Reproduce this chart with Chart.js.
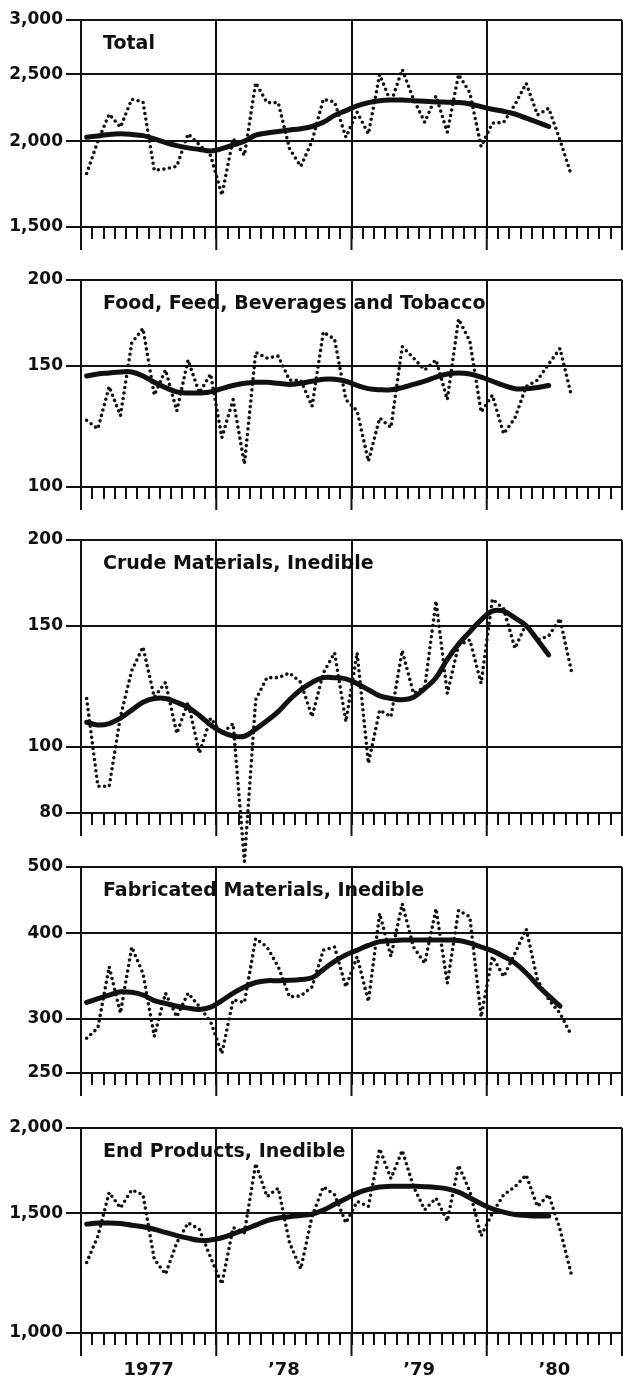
<!DOCTYPE html>
<html>
<head>
<meta charset="utf-8">
<script src="https://cdn.jsdelivr.net/npm/chart.js@4.4.1/dist/chart.umd.min.js"></script>
<style>
  html, body { margin: 0; padding: 0; background: #fff; }
  #wrap { position: relative; width: 623px; height: 1384px; overflow: hidden; }
  #wrap canvas { position: absolute; left: 0; }
</style>
</head>
<body>
<div id="wrap">
  <canvas id="total" width="623" height="267" style="top:0px"></canvas>
  <canvas id="food" width="623" height="267" style="top:260px"></canvas>
  <canvas id="crude" width="623" height="345" style="top:520px"></canvas>
  <canvas id="fab" width="623" height="266" style="top:847px"></canvas>
  <canvas id="endp" width="623" height="276" style="top:1108px"></canvas>
</div>
<script>
const INK = "#111";
const FAMILY = "'DejaVu Sans', sans-serif";

// months Jan 1977 .. Dec 1980 on the x axis
const monthTicks = Array.from({ length: 49 }, (_, i) => i);
const yearLabels = ["1977", "\u201978", "\u201979", "\u201980"];

const titles = [
  "Total",
  "Food, Feed, Beverages and Tobacco",
  "Crude Materials, Inedible",
  "Fabricated Materials, Inedible",
  "End Products, Inedible",
];

// monthly values (dotted), Jan 1977 onward
const totalMonthly = [1794, 2000, 2189, 2095, 2301, 2280, 1814, 1822, 1838, 2049, 1975, 1906,
  1669, 2016, 1906, 2432, 2275, 2275, 1950, 1838, 2000, 2301, 2280, 2026,
  2202, 2049, 2500, 2275, 2542, 2301, 2130, 2326, 2060, 2500, 2352, 1963,
  2124, 2130, 2260, 2427, 2183, 2232, 2007, 1785];
const foodMonthly = [125, 121.5, 140, 127, 162, 170, 136, 148, 129, 153, 137, 146,
  118, 134, 108, 157, 154, 155, 143, 143, 131, 168, 164, 134,
  129, 109, 126, 122, 160, 154, 148, 153, 134, 175.5, 163, 128.5,
  136, 119.5, 126, 140, 143, 151, 159, 136];
const crudeMonthly = [117.5, 87.5, 87.5, 110.5, 129, 139.7, 118, 124, 104.5, 116, 97.8, 110,
  104.5, 108, 68, 117, 126, 126, 128, 124, 110.5, 128, 137, 108.7,
  137, 94.5, 113, 110.5, 138, 119.5, 122, 163, 119.5, 140.5, 143, 123.6,
  164, 158.8, 139, 151, 143, 145, 153.6, 129];
const fabMonthly = [281, 291, 357.5, 305.8, 382, 349.6, 282.8, 327, 302, 327, 312.6, 297,
  267, 319.7, 317, 393, 382, 357.5, 323, 324, 334, 378, 382, 334,
  369.7, 318, 427.6, 370, 442, 382, 361.5, 434.7, 338, 432, 422.8, 302,
  370, 345.8, 373.8, 406, 341.9, 320, 305.8, 284];
const endMonthly = [1269, 1388, 1608, 1526, 1622, 1596, 1284, 1220, 1357, 1451, 1420, 1291,
  1180, 1428, 1404, 1773, 1586, 1632, 1357, 1242, 1484, 1640, 1596, 1451,
  1560, 1534, 1864, 1686, 1854, 1640, 1517, 1578, 1460, 1763, 1614, 1388,
  1500, 1596, 1640, 1706, 1534, 1596, 1420, 1220];

// trend cycles (solid)
const totalTrend = [2026, 2035, 2045, 2049, 2045, 2037, 2015, 1990, 1970, 1955, 1945, 1935,
  1950, 1975, 2000, 2040, 2055, 2065, 2075, 2085, 2100, 2130, 2180, 2215,
  2250, 2275, 2290, 2295, 2295, 2290, 2285, 2280, 2278, 2275, 2265, 2245,
  2225, 2210, 2190, 2160, 2130, 2100];
const foodTrend = [145, 146, 146.5, 147, 147, 145, 142, 139.5, 137.5, 137, 137, 137.5,
  139, 140.5, 141.5, 142, 142, 141.5, 141, 141.5, 142.5, 143.5, 143.5, 142.5,
  140.5, 139, 138.5, 138.5, 139.5, 141, 142.5, 144.5, 146, 146.5, 146, 144.5,
  142.5, 140.5, 139, 139, 139.5, 140.5];
const crudeTrend = [108.5, 107.5, 108, 110, 113, 116, 117.5, 117.5, 116, 114, 111, 107.5,
  105, 103.6, 103.5, 106, 109, 112.4, 117, 121, 124, 126, 126, 125.5,
  123.5, 121, 118.5, 117.5, 117, 118, 121.5, 126, 134, 141, 147, 153,
  157.5, 157.5, 154, 150, 143, 136];
const fabTrend = [317, 321, 325, 328.5, 328, 325, 319, 316, 313, 311, 309.5, 312,
  319, 327, 334, 339, 341, 341, 341.5, 342.5, 344.5, 354, 364, 372,
  378, 384, 389, 390, 391, 391, 391, 391, 391, 390.5, 387, 382,
  377, 370, 362, 350, 336, 324, 313];
const endTrend = [1445, 1450, 1451, 1448, 1440, 1432, 1420, 1405, 1390, 1378, 1368, 1370,
  1380, 1398, 1418, 1440, 1462, 1475, 1482, 1488, 1495, 1515, 1545, 1575,
  1605, 1625, 1638, 1642, 1643, 1642, 1640, 1636, 1628, 1610, 1580, 1548,
  1522, 1505, 1493, 1488, 1485, 1485];

// y tick values per panel
const totalTicks = [1500, 2000, 2500, 3000];
const foodTicks = [100, 150, 200];
const crudeTicks = [80, 100, 150, 200];
const fabTicks = [250, 300, 400, 500];
const endTicks = [1000, 1500, 2000];

const toPoints = (vals) => vals.map((v, i) => ({ x: i + 0.5, y: v }));

// panel title + year lines running down past the month ticks
const panelDecor = {
  id: "panelDecor",
  afterDatasetsDraw(chart, args, opts) {
    const { ctx, chartArea } = chart;
    ctx.save();
    ctx.fillStyle = INK;
    ctx.font = "bold 19px " + FAMILY;
    ctx.textBaseline = "middle";
    ctx.fillText(opts.title, chartArea.left + 22, chartArea.top + 24);
    ctx.restore();
  },
  afterDraw(chart) {
    const { ctx, chartArea, scales } = chart;
    ctx.save();
    ctx.strokeStyle = INK;
    ctx.lineWidth = 2;
    [0, 12, 24, 36, 48].forEach((v) => {
      const x = scales.x.getPixelForValue(v);
      ctx.beginPath();
      ctx.moveTo(x, chartArea.bottom);
      ctx.lineTo(x, chartArea.bottom + 23);
      ctx.stroke();
    });
    ctx.restore();
  },
};

function makePanel(id, title, monthly, trend, yTicks, axisHeight, showYears) {
  return new Chart(document.getElementById(id), {
    type: "line",
    data: {
      datasets: [
        {
          label: "Monthly",
          data: toPoints(monthly),
          borderColor: INK,
          borderWidth: 3.6,
          borderDash: [0, 5.6],
          borderCapStyle: "round",
          pointRadius: 0,
          tension: 0,
          clip: false,
        },
        {
          label: "Trend",
          data: toPoints(trend),
          borderColor: INK,
          borderWidth: 5,
          borderCapStyle: "round",
          pointRadius: 0,
          tension: 0.4,
        },
      ],
    },
    options: {
      responsive: false,
      animation: false,
      events: [],
      layout: { padding: { top: 20, right: 1, bottom: 0, left: 0 } },
      plugins: {
        legend: { display: false },
        tooltip: { enabled: false },
        panelDecor: { title: title },
      },
      scales: {
        x: {
          type: "linear",
          min: 0,
          max: 48,
          afterBuildTicks: (s) => { s.ticks = monthTicks.map((v) => ({ value: v })); },
          afterFit: (s) => {
            s.height = axisHeight;
            s.paddingLeft = 0;
            s.paddingRight = 0;
          },
          grid: {
            color: (c) => (c.tick && c.tick.value % 12 === 0 ? INK : "rgba(0,0,0,0)"),
            lineWidth: 2,
            tickColor: INK,
            tickWidth: 2,
            tickLength: 12,
          },
          border: { display: true, color: INK, width: 2 },
          ticks: {
            display: showYears,
            autoSkip: false,
            maxRotation: 0,
            padding: 15,
            color: INK,
            font: { family: FAMILY, size: 18, weight: "bold" },
            callback: (v) => (v % 12 === 6 ? yearLabels[(v - 6) / 12] : ""),
          },
        },
        y: {
          type: "logarithmic",
          min: yTicks[0],
          max: yTicks[yTicks.length - 1],
          afterBuildTicks: (s) => { s.ticks = yTicks.map((v) => ({ value: v })); },
          afterFit: (s) => { s.width = 81; },
          grid: { color: INK, lineWidth: 2, tickColor: INK, tickLength: 15 },
          border: { display: true, color: INK, width: 2 },
          ticks: {
            color: INK,
            padding: 3,
            font: { family: FAMILY, size: 17, weight: "bold" },
            callback: (v) => Number(v).toLocaleString("en-US"),
          },
        },
      },
    },
    plugins: [panelDecor],
  });
}

makePanel("total", titles[0], totalMonthly, totalTrend, totalTicks, 40, false);
makePanel("food", titles[1], foodMonthly, foodTrend, foodTicks, 40, false);
makePanel("crude", titles[2], crudeMonthly, crudeTrend, crudeTicks, 52, false);
makePanel("fab", titles[3], fabMonthly, fabTrend, fabTicks, 40, false);
makePanel("endp", titles[4], endMonthly, endTrend, endTicks, 51, true);
</script>
</body>
</html>
